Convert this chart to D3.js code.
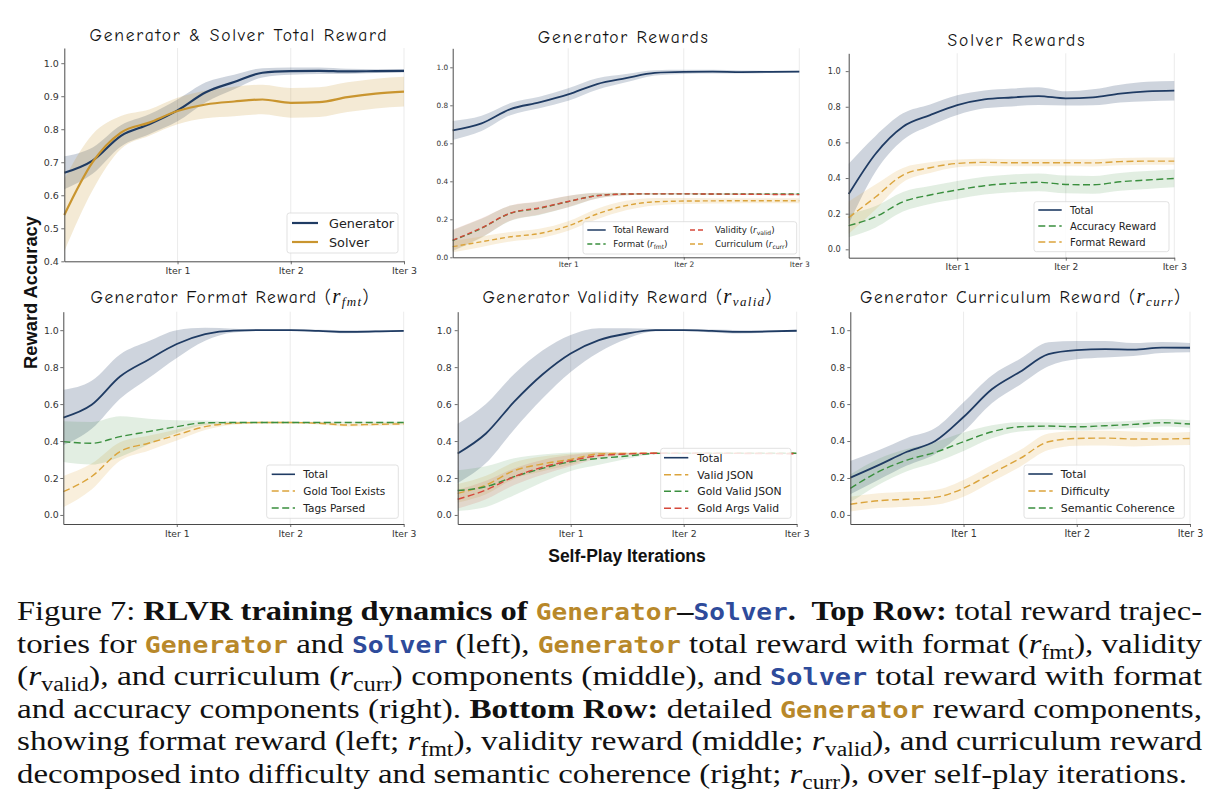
<!DOCTYPE html>
<html lang="en">
<head>
<meta charset="UTF-8">
<title>RLVR training dynamics</title>
<style>
  html, body { margin: 0; background: #fff; }
  svg { display: block; }
  text { white-space: pre; }
</style>
</head>
<body>
<svg id="chart" width="1224" height="811"></svg>
<script src="https://cdn.jsdelivr.net/npm/d3@7"></script>
<script>
// logged points, in self-play iterations
var iters = [0, 0.25, 0.5, 0.75, 1, 1.25, 1.5, 1.75, 2, 2.25, 2.5, 2.75, 3]
var iterTicks = [1, 2, 3]
var ticks01 = [0.4, 0.5, 0.6, 0.7, 0.8, 0.9, 1.0]
var ticks02 = [0, 0.2, 0.4, 0.6, 0.8, 1.0]

// generator total reward (top left + top middle)
var genTotal = [0.668, 0.705, 0.78, 0.815, 0.857, 0.912, 0.943, 0.971, 0.976, 0.977, 0.975, 0.976, 0.977]
var genTotalErr = [0.05, 0.04, 0.032, 0.03, 0.033, 0.03, 0.022, 0.014, 0.011, 0.01, 0.008, 0.006, 0.005]
var solverTotal = [0.54, 0.70, 0.79, 0.82, 0.855, 0.875, 0.884, 0.89, 0.88, 0.882, 0.897, 0.908, 0.914]
var solverTotalErr = [0.11, 0.085, 0.05, 0.04, 0.04, 0.042, 0.045, 0.045, 0.045, 0.045, 0.045, 0.045, 0.045]

// generator components
var genFormat = [0.088, 0.153, 0.232, 0.258, 0.293, 0.325, 0.333, 0.334, 0.334, 0.333, 0.333, 0.333, 0.333]
var genFormatErr = [0.055, 0.05, 0.04, 0.035, 0.03, 0.015, 0.006, 0.004, 0.004, 0.004, 0.004, 0.004, 0.004]
var genValidity = [0.09, 0.155, 0.233, 0.26, 0.294, 0.324, 0.333, 0.334, 0.334, 0.333, 0.332, 0.331, 0.33]
var genValidityErr = [0.055, 0.05, 0.04, 0.035, 0.03, 0.015, 0.006, 0.004, 0.004, 0.004, 0.004, 0.004, 0.004]
var genCurriculum = [0.056, 0.082, 0.108, 0.125, 0.165, 0.228, 0.272, 0.292, 0.296, 0.297, 0.298, 0.298, 0.298]
var genCurriculumErr = [0.03, 0.028, 0.025, 0.025, 0.025, 0.028, 0.025, 0.02, 0.016, 0.014, 0.013, 0.013, 0.013]

// solver rewards
var solTotal = [0.31, 0.538, 0.688, 0.753, 0.809, 0.841, 0.852, 0.86, 0.847, 0.853, 0.874, 0.886, 0.89]
var solTotalErr = [0.17, 0.1, 0.075, 0.06, 0.055, 0.05, 0.05, 0.05, 0.04, 0.045, 0.05, 0.055, 0.055]
var solAccuracy = [0.133, 0.183, 0.267, 0.305, 0.333, 0.357, 0.37, 0.376, 0.364, 0.362, 0.379, 0.389, 0.398]
var solAccuracyErr = [0.065, 0.06, 0.055, 0.05, 0.05, 0.05, 0.05, 0.05, 0.05, 0.05, 0.05, 0.05, 0.05]
var solFormat = [0.178, 0.295, 0.417, 0.458, 0.482, 0.488, 0.486, 0.486, 0.486, 0.485, 0.492, 0.495, 0.495]
var solFormatErr = [0.09, 0.07, 0.04, 0.03, 0.022, 0.02, 0.02, 0.02, 0.02, 0.02, 0.02, 0.02, 0.02]

// generator format reward
var fmtTotal = [0.527, 0.596, 0.749, 0.84, 0.925, 0.978, 0.998, 1.0, 1.0, 0.996, 0.991, 0.993, 0.996]
var fmtTotalErr = [0.15, 0.13, 0.12, 0.1, 0.075, 0.035, 0.01, 0.004, 0.004, 0.006, 0.008, 0.006, 0.005]
var goldToolExists = [0.126, 0.208, 0.343, 0.388, 0.433, 0.478, 0.496, 0.5, 0.5, 0.496, 0.487, 0.49, 0.493]
var goldToolExistsErr = [0.085, 0.07, 0.05, 0.04, 0.03, 0.018, 0.008, 0.005, 0.005, 0.006, 0.008, 0.008, 0.008]
var tagsParsed = [0.397, 0.388, 0.424, 0.451, 0.478, 0.499, 0.5, 0.5, 0.5, 0.5, 0.5, 0.5, 0.5]
var tagsParsedErr = [0.11, 0.115, 0.11, 0.07, 0.035, 0.012, 0.005, 0.004, 0.004, 0.004, 0.004, 0.004, 0.004]

// generator validity reward
var validTotal = [0.333, 0.441, 0.613, 0.76, 0.874, 0.946, 0.982, 1.0, 1.0, 0.996, 0.991, 0.993, 0.997]
var validTotalErr = [0.16, 0.16, 0.15, 0.13, 0.1, 0.065, 0.028, 0.006, 0.004, 0.008, 0.009, 0.006, 0.004]
var validJson = [0.117, 0.162, 0.24, 0.276, 0.301, 0.33, 0.333, 0.334, 0.334, 0.334, 0.334, 0.334, 0.334]
var validJsonErr = [0.05, 0.05, 0.045, 0.04, 0.03, 0.012, 0.005, 0.003, 0.003, 0.003, 0.003, 0.003, 0.003]
var goldValidJson = [0.132, 0.153, 0.207, 0.252, 0.288, 0.306, 0.319, 0.333, 0.334, 0.334, 0.334, 0.334, 0.334]
var goldValidJsonErr = [0.11, 0.11, 0.1, 0.075, 0.05, 0.035, 0.015, 0.004, 0.003, 0.003, 0.003, 0.003, 0.003]
var goldArgsValid = [0.085, 0.135, 0.207, 0.258, 0.294, 0.321, 0.33, 0.334, 0.334, 0.333, 0.333, 0.332, 0.331]
var goldArgsValidErr = [0.05, 0.05, 0.045, 0.04, 0.03, 0.015, 0.006, 0.003, 0.003, 0.003, 0.003, 0.003, 0.003]

// generator curriculum reward
var currTotal = [0.202, 0.27, 0.342, 0.4, 0.53, 0.68, 0.775, 0.87, 0.892, 0.897, 0.895, 0.906, 0.905]
var currTotalErr = [0.09, 0.08, 0.075, 0.07, 0.08, 0.075, 0.07, 0.065, 0.05, 0.045, 0.035, 0.03, 0.025]
var difficulty = [0.058, 0.077, 0.085, 0.095, 0.144, 0.225, 0.306, 0.396, 0.414, 0.416, 0.411, 0.411, 0.414]
var difficultyErr = [0.04, 0.04, 0.04, 0.04, 0.045, 0.045, 0.045, 0.045, 0.04, 0.04, 0.04, 0.035, 0.035]
var semCoherence = [0.144, 0.234, 0.297, 0.339, 0.396, 0.45, 0.477, 0.481, 0.477, 0.483, 0.49, 0.499, 0.492]
var semCoherenceErr = [0.075, 0.07, 0.06, 0.055, 0.05, 0.035, 0.025, 0.02, 0.02, 0.02, 0.02, 0.02, 0.02]

var captionLines = [
  [['n', 'Figure 7: '], ['b', 'RLVR training dynamics of '], ['g', 'Generator'], ['b', '–'], ['s', 'Solver'], ['b', '.  Top Row:'], ['n', ' total reward trajec-']],
  [['n', 'tories for '], ['g', 'Generator'], ['n', ' and '], ['s', 'Solver'], ['n', ' (left), '], ['g', 'Generator'], ['n', ' total reward with format ('], ['r', 'r'], ['sub', 'fmt'], ['n', '), validity']],
  [['n', '('], ['r', 'r'], ['sub', 'valid'], ['n', '), and curriculum ('], ['r', 'r'], ['sub', 'curr'], ['n', ') components (middle), and '], ['s', 'Solver'], ['n', ' total reward with format']],
  [['n', 'and accuracy components (right). '], ['b', 'Bottom Row:'], ['n', ' detailed '], ['g', 'Generator'], ['n', ' reward components,']],
  [['n', 'showing format reward (left; '], ['r', 'r'], ['sub', 'fmt'], ['n', '), validity reward (middle; '], ['r', 'r'], ['sub', 'valid'], ['n', '), and curriculum reward']],
  [['n', 'decomposed into difficulty and semantic coherence (right; '], ['r', 'r'], ['sub', 'curr'], ['n', '), over self-play iterations.']]
]

var NAVY = '#1f3b63', GOLD = '#c9952f', ORANGE = '#dba43c', GREEN = '#3a8f3e', RED = '#d6483b'
var SPINE = '#4a4a4a'
var TICK_FONT = 'DejaVu Sans'
var TITLE_FONT = '"Comic Sans MS", "Comic Neue", "Open Sans", sans-serif'

function S(label, values, err, color, dashed, band) {
  return { label: label, values: values, err: err, color: color, dashed: dashed, band: band }
}

var panels = [
  {
    title: 'Generator & Solver Total Reward', tx: 238, ty: 40.7, tlen: 297,
    x: [64.3, 404], y: [261.3, 48], domain: [0.4, 1.046], yTicks: ticks01,
    yFont: 9.5, yPad: 2.5, xFont: 9.4, xPad: 3, tick: 3, lw: 2.2, dash: '6,3',
    series: [S('Generator', genTotal, genTotalErr, NAVY, false, 0.22), S('Solver', solverTotal, solverTotalErr, GOLD, false, 0.2)],
    legend: { x: 287, y: 213, w: 111, h: 40, font: 12.8, lw: 2.2, rows: [223, 242], cols: [[292, 318, 329]] }
  },
  {
    title: 'Generator Rewards', tx: 622.7, ty: 42.7, tlen: 170,
    x: [452.7, 799.3], y: [257.3, 48.3], domain: [0, 1.1], yTicks: ticks02,
    yFont: 7.3, yPad: 2, xFont: 7.5, xPad: 1.8, tick: 2.5, lw: 1.8, dash: '5,3',
    series: [S('Total Reward', genTotal, genTotalErr, NAVY, false, 0.2), S('Format (r_fmt)', genFormat, genFormatErr, GREEN, true, 0.15),
      S('Validity (r_valid)', genValidity, genValidityErr, RED, true, 0.15), S('Curriculum (r_curr)', genCurriculum, genCurriculumErr, ORANGE, true, 0.18)],
    legend: { x: 583, y: 221.7, w: 213.7, h: 32.3, font: 8.7, lw: 1.5, rows: [230, 244], cols: [[587.3, 605.7, 613.3], [690, 706, 715]] }
  },
  {
    title: 'Solver Rewards', tx: 1016, ty: 46, tlen: 137,
    x: [848.7, 1174.3], y: [257.7, 53.3], domain: [-0.047, 1.1], yTicks: ticks02,
    yFont: 8.2, yPad: 5, xFont: 9.1, xPad: 3.2, tick: 3, lw: 1.8, dash: '7,3.5',
    series: [S('Total', solTotal, solTotalErr, NAVY, false, 0.22), S('Accuracy Reward', solAccuracy, solAccuracyErr, GREEN, true, 0.15),
      S('Format Reward', solFormat, solFormatErr, ORANGE, true, 0.18)],
    legend: { x: 1034, y: 201.7, w: 135, h: 50, font: 10, lw: 1.6, rows: [210, 226, 242], cols: [[1038.3, 1061.7, 1070]] }
  },
  {
    title: 'Generator Format Reward (r_fmt)', tx: 229.5, ty: 302.7, tlen: 278,
    x: [63.3, 403.7], y: [524, 311.7], domain: [-0.049, 1.1], yTicks: ticks02,
    yFont: 9.4, yPad: 1.5, xFont: 9.2, xPad: 3, tick: 3, lw: 1.8, dash: '7,3.5',
    series: [S('Total', fmtTotal, fmtTotalErr, NAVY, false, 0.22), S('Gold Tool Exists', goldToolExists, goldToolExistsErr, ORANGE, true, 0.18),
      S('Tags Parsed', tagsParsed, tagsParsedErr, GREEN, true, 0.15)],
    legend: { x: 266.7, y: 465, w: 131.6, h: 53.3, font: 10.5, lw: 1.6, rows: [474.3, 491, 508], cols: [[271.7, 295, 303.3]] }
  },
  {
    title: 'Generator Validity Reward (r_valid)', tx: 627, ty: 303.3, tlen: 289,
    x: [457.7, 796.7], y: [524, 311.7], domain: [-0.049, 1.1], yTicks: ticks02,
    yFont: 9.4, yPad: 3, xFont: 9.4, xPad: 3, tick: 3, lw: 1.8, dash: '7,3.5',
    series: [S('Total', validTotal, validTotalErr, NAVY, false, 0.22), S('Valid JSON', validJson, validJsonErr, ORANGE, true, 0.18),
      S('Gold Valid JSON', goldValidJson, goldValidJsonErr, GREEN, true, 0.14), S('Gold Args Valid', goldArgsValid, goldArgsValidErr, RED, true, 0.14)],
    legend: { x: 660.7, y: 448.3, w: 130.3, h: 70, font: 10.8, lw: 1.6, rows: [457.7, 474.7, 491.3, 508.3], cols: [[664, 688.3, 697.3]] }
  },
  {
    title: 'Generator Curriculum Reward (r_curr)', tx: 1020, ty: 303.3, tlen: 320,
    x: [850.3, 1190], y: [524, 311.7], domain: [-0.049, 1.1], yTicks: ticks02,
    yFont: 9.2, yPad: 2.3, xFont: 9.6, xPad: 3, tick: 3, lw: 1.8, dash: '7,3.5',
    series: [S('Total', currTotal, currTotalErr, NAVY, false, 0.22), S('Difficulty', difficulty, difficultyErr, ORANGE, true, 0.18),
      S('Semantic Coherence', semCoherence, semCoherenceErr, GREEN, true, 0.15)],
    legend: { x: 1024, y: 465, w: 160.3, h: 53.3, font: 11, lw: 1.6, rows: [474, 491, 508], cols: [[1028.3, 1052.7, 1060.7]] }
  }
]

// text with r_xxx pieces turned into an italic r with a subscript
function rich(text, str, o) {
  var pending = 0
  function add(t) {
    var ts = text.append('tspan').text(t)
    if (pending) { ts.attr('dy', pending); pending = 0 }
    return ts
  }
  str.split(/(r_[a-z]+)/).forEach(function (part) {
    if (!part) return
    var m = part.match(/^r_([a-z]+)$/)
    if (!m) { add(part); return }
    add('r').attr('font-family', o.rFont).attr('font-style', 'italic').attr('font-size', o.rSize)
    add(m[1]).attr('font-family', o.subFont).attr('font-style', o.subStyle)
      .attr('font-size', o.subSize).attr('dy', o.shift)
    pending = -o.shift
  })
}

var svg = d3.select('#chart')

panels.forEach(function (p) {
  var x = d3.scaleLinear().domain([0, 3]).range(p.x)
  var y = d3.scaleLinear().domain(p.domain).range(p.y)
  var g = svg.append('g')

  g.append('g').selectAll('line').data(iterTicks).join('line')
    .attr('x1', d => x(d)).attr('x2', d => x(d))
    .attr('y1', p.y[0]).attr('y2', p.y[1])
    .attr('stroke', '#e6e6e6').attr('stroke-width', 0.8)

  var area = d3.area().curve(d3.curveMonotoneX)
    .x((d, i) => x(iters[i])).y0(d => y(d[0])).y1(d => y(d[1]))
  var line = d3.line().curve(d3.curveMonotoneX)
    .x((d, i) => x(iters[i])).y(d => y(d))

  g.append('g').selectAll('path').data(p.series).join('path')
    .attr('d', s => area(s.values.map((v, i) => [v - s.err[i], v + s.err[i]])))
    .attr('fill', s => s.color).attr('fill-opacity', s => s.band)

  g.append('g').selectAll('path').data(p.series).join('path')
    .attr('d', s => line(s.values))
    .attr('fill', 'none').attr('stroke', s => s.color)
    .attr('stroke-width', s => s.dashed ? p.lw * 0.78 : p.lw)
    .attr('stroke-dasharray', s => s.dashed ? p.dash : null)

  // axes
  var gy = g.append('g').attr('transform', `translate(${p.x[0]},0)`)
    .call(d3.axisLeft(y).tickValues(p.yTicks).tickFormat(d3.format('.1f'))
      .tickSize(p.tick).tickSizeOuter(0).tickPadding(p.yPad))
  var gx = g.append('g').attr('transform', `translate(0,${p.y[0]})`)
    .call(d3.axisBottom(x).tickValues(iterTicks).tickFormat(d => 'Iter ' + d)
      .tickSize(p.tick).tickSizeOuter(0).tickPadding(p.xPad))
  ;[gx, gy].forEach(function (a) {
    a.select('.domain').attr('stroke', SPINE).attr('stroke-width', 1)
    a.selectAll('.tick line').attr('stroke', SPINE).attr('stroke-width', 0.8)
  })
  gy.selectAll('text').attr('font-family', TICK_FONT).attr('font-size', p.yFont).attr('fill', '#333')
  gx.selectAll('text').attr('font-family', TICK_FONT).attr('font-size', p.xFont).attr('fill', '#333')

  // title
  var t = g.append('text').attr('x', p.tx).attr('y', p.ty).attr('text-anchor', 'middle')
    .attr('font-family', TITLE_FONT).attr('font-size', 17.5).attr('fill', '#111')
  rich(t, p.title, { rFont: 'Liberation Serif', rSize: 21, subFont: 'Liberation Serif', subStyle: 'italic', subSize: 13, shift: 3 })
  t.attr('textLength', p.tlen).attr('lengthAdjust', 'spacing')

  // legend
  var L = p.legend
  var lg = g.append('g')
  lg.append('rect').attr('x', L.x).attr('y', L.y).attr('width', L.w).attr('height', L.h).attr('rx', 2.5)
    .attr('fill', '#fff').attr('fill-opacity', 0.85).attr('stroke', '#d9d9d9').attr('stroke-width', 0.8)
  p.series.forEach(function (s, i) {
    var c = L.cols[Math.floor(i / L.rows.length)]
    var ry = L.rows[i % L.rows.length]
    lg.append('line').attr('x1', c[0]).attr('x2', c[1]).attr('y1', ry).attr('y2', ry)
      .attr('stroke', s.color).attr('stroke-width', s.dashed ? L.lw * 0.85 : L.lw)
      .attr('stroke-dasharray', s.dashed ? p.dash : null)
    var lt = lg.append('text').attr('x', c[2]).attr('y', ry + L.font * 0.36)
      .attr('font-family', TICK_FONT).attr('font-size', L.font).attr('fill', '#222')
    rich(lt, s.label, { rFont: TICK_FONT, rSize: L.font, subFont: TICK_FONT, subStyle: 'normal', subSize: L.font * 0.7, shift: L.font * 0.22 })
  })
})

// shared axis labels
svg.append('text').attr('transform', 'translate(37,292.5) rotate(-90)').attr('text-anchor', 'middle')
  .attr('font-family', 'Liberation Sans').attr('font-weight', 'bold').attr('font-size', 18.3)
  .attr('fill', '#111').text('Reward Accuracy')
svg.append('text').attr('x', 627).attr('y', 561.7).attr('text-anchor', 'middle')
  .attr('font-family', 'Liberation Sans').attr('font-weight', 'bold').attr('font-size', 17.5)
  .attr('fill', '#111').text('Self-Play Iterations')

// caption, each line stretched to the justified width of the original
var capStyle = {
  n: { 'font-family': 'Liberation Serif' },
  b: { 'font-family': 'Liberation Serif', 'font-weight': 'bold' },
  g: { 'font-family': 'DejaVu Sans Mono', 'font-weight': 'bold', 'font-size': 22.5, fill: '#b8882a' },
  s: { 'font-family': 'DejaVu Sans Mono', 'font-weight': 'bold', 'font-size': 22.5, fill: '#2e4b9b' },
  r: { 'font-family': 'Liberation Serif', 'font-style': 'italic' },
  sub: { 'font-family': 'Liberation Serif', 'font-size': 20 }
}
captionLines.forEach(function (segs, li) {
  var txt = svg.append('text').attr('x', 17).attr('y', 620 + li * 32.6)
    .attr('font-size', 28).attr('fill', '#111')
  var pending = 0
  segs.forEach(function (seg) {
    var ts = txt.append('tspan').text(seg[1])
    Object.entries(capStyle[seg[0]]).forEach(kv => ts.attr(kv[0], kv[1]))
    if (seg[0] === 'sub') { ts.attr('dy', 6); pending = -6 }
    else if (pending) { ts.attr('dy', pending); pending = 0 }
  })
  var target = li === captionLines.length - 1 ? 1170 : 1185
  txt.attr('textLength', target).attr('lengthAdjust', 'spacingAndGlyphs')
})
</script>
</body>
</html>
